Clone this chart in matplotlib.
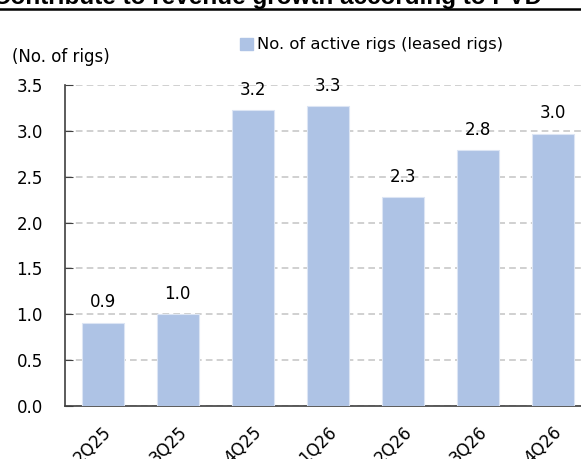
import matplotlib
matplotlib.use('Agg')
import matplotlib.pyplot as plt
from matplotlib.lines import Line2D
from matplotlib.patches import Patch

# data
quarters = ['2Q25', '3Q25', '4Q25', '1Q26', '2Q26', '3Q26', '4Q26']
active_rigs = [0.91, 1.00, 3.23, 3.27, 2.28, 2.79, 2.97]
value_labels = ['0.9', '1.0', '3.2', '3.3', '2.3', '2.8', '3.0']
y_ticks = [0.0, 0.5, 1.0, 1.5, 2.0, 2.5, 3.0, 3.5]

bar_color = '#AEC3E5'

fig = plt.figure(figsize=(5.81, 4.59), dpi=100)
ax = fig.add_axes([65 / 581, 53 / 459, 525.5 / 581, 321 / 459])

x = range(len(quarters))
ax.bar(x, active_rigs, width=0.56, color=bar_color, edgecolor='#DCE5F4',
       linewidth=0.8, zorder=3)

for xi, v, lab in zip(x, active_rigs, value_labels):
    ax.annotate(lab, (xi, v), xytext=(0, 8), textcoords='offset points',
                ha='center', va='bottom', fontsize=12, color='black')

ax.set_xlim(-0.5, len(quarters) - 0.5)
ax.set_ylim(0, 3.5)
ax.set_yticks(y_ticks)
ax.set_yticklabels([f'{t:.1f}' for t in y_ticks], fontsize=12)
ax.tick_params(axis='y', direction='in', length=6, color='#404040', pad=16)
ax.yaxis.grid(True, linestyle=(0, (4, 2.5)), color='#C8C8C8', linewidth=1.2, zorder=0)
ax.set_xticks(list(x))
ax.set_xticklabels(quarters, rotation=45, ha='right', rotation_mode='anchor',
                   fontsize=12)
ax.tick_params(axis='x', length=0, pad=12)

for s in ['top', 'right']:
    ax.spines[s].set_visible(False)
for s in ['left', 'bottom']:
    ax.spines[s].set_color('#404040')
    ax.spines[s].set_linewidth(1.2)

# unit label and legend
fig.text(12 / 581, 1 - 57 / 459, '(No. of rigs)', fontsize=12, va='center', ha='left')
fig.legend(handles=[Patch(color=bar_color, label='No. of active rigs (leased rigs)')],
           loc='center left', bbox_to_anchor=(232 / 581, 1 - 45 / 459),
           frameon=False, fontsize=11.8, handlelength=0.8, handleheight=0.8,
           handletextpad=0.2, borderpad=0)

# cut-off header and rule at the top
fig.text(-7 / 581, 1 - 4 / 459, 'Contribute to revenue growth according to PVD',
         fontsize=17.5, fontweight='bold', family='Liberation Sans',
         ha='left', va='baseline')
fig.add_artist(Line2D([0, 1], [1 - 9 / 459] * 2, color='black', linewidth=1.8,
                      transform=fig.transFigure))

fig.savefig('out.png', dpi=100)
